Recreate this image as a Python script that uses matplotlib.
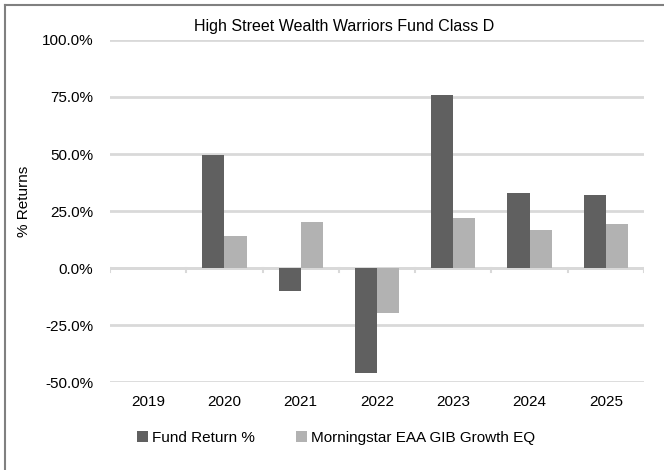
import numpy as np
import matplotlib
matplotlib.use("Agg")
import matplotlib.pyplot as plt
from matplotlib.lines import Line2D
from matplotlib.ticker import FuncFormatter

plt.rcParams['font.family'] = ['Liberation Sans', 'DejaVu Sans']

years = ['2019', '2020', '2021', '2022', '2023', '2024', '2025']
fund = [np.nan, 49.4, -9.9, -46.0, 75.8, 32.9, 31.9]
bench = [np.nan, 14.2, 20.0, -19.5, 21.8, 16.8, 19.3]
names = ['Fund Return %', 'Morningstar EAA GIB Growth EQ']

fig = plt.figure(figsize=(6.64, 4.7), dpi=100)
ax = fig.add_axes([110 / 664, 0.187, 534 / 664, 0.728])

x = np.arange(len(years))
w = 0.29
ax.bar(x - w / 2, fund, w, color='#606060', label=names[0], zorder=3)
ax.bar(x + w / 2, bench, w, color='#b2b2b2', label=names[1], zorder=3)

ax.set_xlim(-0.5, len(years) - 0.5)
ax.set_ylim(-50, 100)
ax.set_yticks([-50, -25, 0, 25, 50, 75, 100])
ax.yaxis.set_major_formatter(FuncFormatter(lambda v, p: '%.1f%%' % v))
ax.grid(axis='y', color='#d9d9d9', linewidth=2, zorder=0)
ax.tick_params(axis='y', length=0, labelsize=11, pad=12)
for s in ax.spines.values():
    s.set_visible(False)

# category axis on the zero line
ax.axhline(0, color='#d9d9d9', linewidth=2, zorder=2)
for b in np.arange(-0.5, len(years), 1.0):
    ax.plot([b, b], [0, -1.8], color='#d9d9d9', linewidth=1.5, zorder=2)
ax.set_xticks(x)
ax.set_xticklabels([])
ax.tick_params(axis='x', length=0)
for xi, lab in zip(x, years):
    ax.text(xi, -58.8, lab, ha='center', va='center', fontsize=11)

fig.text(24 / 664, 1 - 201 / 470, '% Returns', rotation=90, ha='center',
         va='center', fontsize=11)
fig.text(344 / 664, 1 - 27 / 470, 'High Street Wealth Warriors Fund Class D',
         ha='center', va='center', fontsize=11.5)

fig.legend(loc='center', bbox_to_anchor=(336 / 664, 0.068), ncol=2, frameon=False,
           fontsize=11, handlelength=0.7, handleheight=0.7, handletextpad=0.25,
           columnspacing=2.7)

# border only on the top and left (image is cropped)
fig.add_artist(Line2D([5 / 664, 5 / 664], [0, 1 - 5 / 470], transform=fig.transFigure,
                      color='#808080', linewidth=1.5))
fig.add_artist(Line2D([5 / 664, 1], [1 - 5 / 470, 1 - 5 / 470], transform=fig.transFigure,
                      color='#808080', linewidth=1.5))

fig.savefig('out.png', dpi=100)
